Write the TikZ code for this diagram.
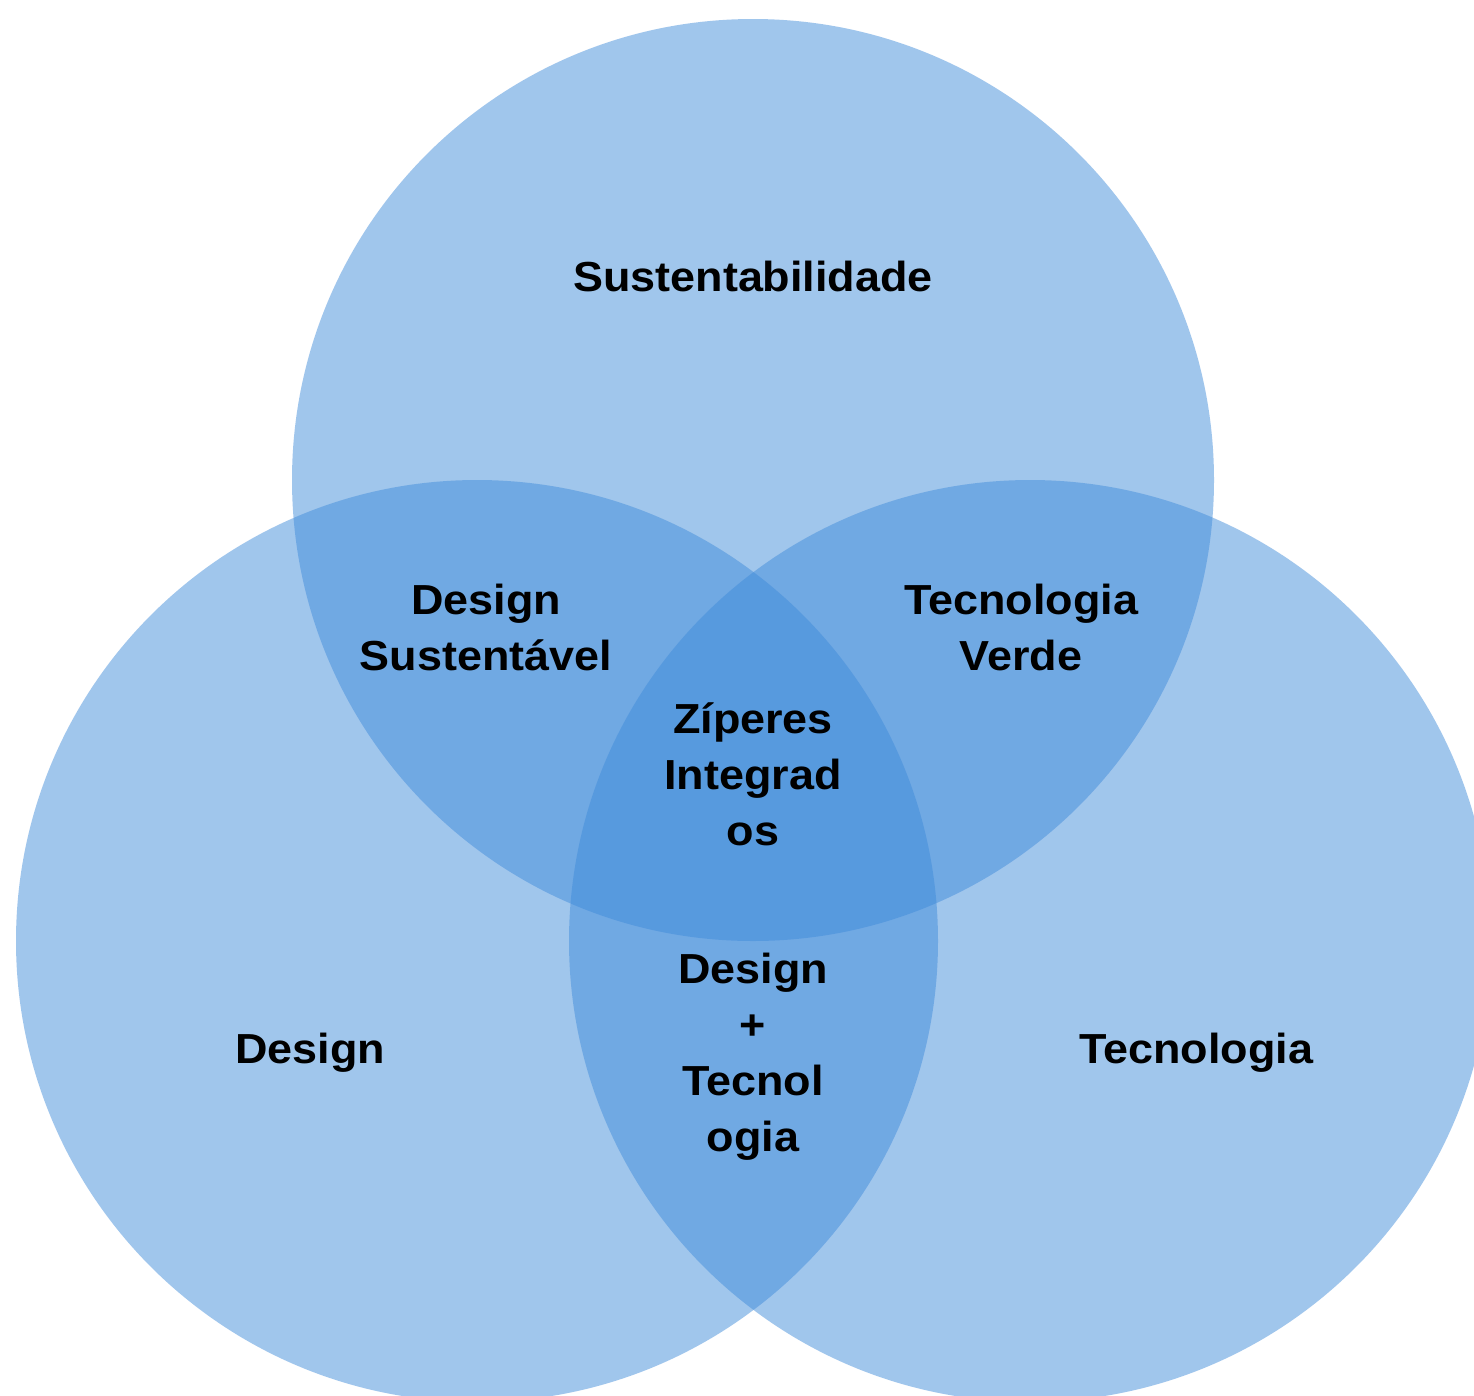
\documentclass[tikz,border=0pt]{standalone}
\usepackage{fontspec}
\setmainfont[FakeStretch=1.07]{Liberation Sans}
\definecolor{venn}{RGB}{63,139,218}
\begin{document}
\begin{tikzpicture}[x=1pt,y=-1pt,
  set/.style={fill=venn,fill opacity=0.49},
  lbl/.style={font=\fontsize{42}{56}\selectfont\bfseries,align=center,text=black,inner sep=0pt}]
\clip (0,0) rectangle (1474,1395);
\useasboundingbox (0,0) rectangle (1474,1395);
\fill[white] (0,0) rectangle (1474,1395);
\fill[set] (753,480) circle[radius=461];
\fill[set] (477,941) circle[radius=461];
\fill[set] (1030,941) circle[radius=461];
\node[lbl] (sus) at (753,276) {Sustentabilidade};
\node[lbl] (ds) at (486,627) {Design\\Sustentável};
\node[lbl] (tv) at (1021,627) {Tecnologia\\Verde};
\node[lbl] (zi) at (753,774) {Zíperes\\Integrad\\os};
\node[lbl] (dt) at (753,1057) {Design\\+\\Tecnol\\ogia};
\node[lbl] (de) at (310,1053) {Design};
\node[lbl] (te) at (1196,1053) {Tecnologia};
\end{tikzpicture}
\end{document}
